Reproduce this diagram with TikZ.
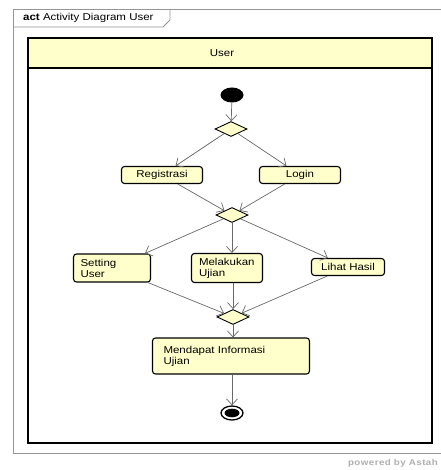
\documentclass[tikz,border=0pt]{standalone}
\usepackage{fontspec}
\setmainfont{Liberation Sans}[FakeStretch=1.15]
\usepackage{xcolor}
\usepackage{tikz}
\usetikzlibrary{shapes.geometric,arrows.meta}

\definecolor{umlfill}{RGB}{255,255,204}
\definecolor{flowgray}{RGB}{105,105,105}
\definecolor{framegray}{RGB}{150,150,150}
\definecolor{markgray}{RGB}{175,175,175}

\begin{document}
\begin{tikzpicture}[x=1pt,y=-1pt,
  font=\fontsize{10}{11}\selectfont,
  action/.style={draw, line width=1.1pt, rounded corners=3pt, fill=umlfill,
    inner sep=0pt, minimum height=17pt},
  actionml/.style={action, align=left},
  decision/.style={draw, diamond, fill=umlfill, line width=0.9pt,
    inner sep=0pt, minimum width=32pt, minimum height=15pt},
  flow/.style={draw=flowgray, line width=0.7pt,
    -{Straight Barb[length=6pt,width=11pt]}}]

  % White page with the reference margins
  \fill[white] (0,0) rectangle (440,470);
  \useasboundingbox (0,0) rectangle (440,470);

  % Outer frame and title tab
  \draw[framegray, line width=0.8pt] (446,9) -- (13,9) -- (13,453) -- (446,453);
  \draw[framegray, line width=0.8pt] (13,27) -- (163,27) -- (170,20) -- (170,9);
  \node[anchor=west, inner sep=0pt] (title) at (23,18) {\textbf{act} Activity Diagram User};

  % Swimlane
  \filldraw[fill=umlfill, draw=black, line width=1.2pt] (28,38) rectangle (432,68);
  \draw[black, line width=1.2pt] (28,68) -- (28,443) -- (432,443) -- (432,68);
  \node (lane) at (222,53) {User};

  % Start, decisions and end
  \node[ellipse, fill=black, inner sep=0pt, minimum width=23pt, minimum height=15pt] (init) at (232,95) {};
  \node[decision] (d1) at (231,129) {};
  \node[decision] (d2) at (232,215) {};
  \node[decision] (d3) at (233,317) {};
  \node[ellipse, draw, line width=1.3pt, inner sep=0pt, minimum width=22pt, minimum height=14pt] (final) at (232,413) {};
  \fill[black] (final.center) ellipse (7.5 and 4.3);

  % Actions
  \node[action, minimum width=81pt] (registrasi) at (162,175) {Registrasi};
  \node[action, minimum width=81pt] (login) at (300,175) {Login};
  \node[actionml, text width=63pt, inner xsep=7pt, minimum height=28pt] (setting) at (112,268) {Setting\\User};
  \node[actionml, text width=56pt, inner xsep=7.5pt, minimum height=29pt] (ujian) at (227,268) {Melakukan\\Ujian};
  \node[action, minimum width=73pt] (hasil) at (348,267) {Lihat Hasil};
  \node[actionml, text width=135pt, inner xsep=11pt, minimum height=36pt] (info) at (231,356) {Mendapat Informasi\\Ujian};

  % Control flows
  \draw[flow] (init) -- (d1);
  \draw[flow] (d1) -- (registrasi);
  \draw[flow] (d1) -- (login);
  \draw[flow] (registrasi) -- (d2);
  \draw[flow] (login) -- (d2);
  \draw[flow] (d2) -- (setting);
  \draw[flow] (d2.south) -- (d2.south |- ujian.north);
  \draw[flow] (d2) -- (hasil);
  \draw[flow] (setting) -- (d3);
  \draw[flow] (ujian.south -| d3.north) -- (d3.north);
  \draw[flow] (hasil) -- (d3);
  \draw[flow] (d3.south) -- (d3.south |- info.north);
  \draw[flow] (info.south -| final.north) -- (final.north);

  % Tool mark
  \node[anchor=east, inner sep=0pt, text=markgray, font=\fontsize{8.5}{10}\selectfont\bfseries\addfontfeature{LetterSpace=5}] (astah) at (438,463) {powered by Astah};
\end{tikzpicture}
\end{document}
